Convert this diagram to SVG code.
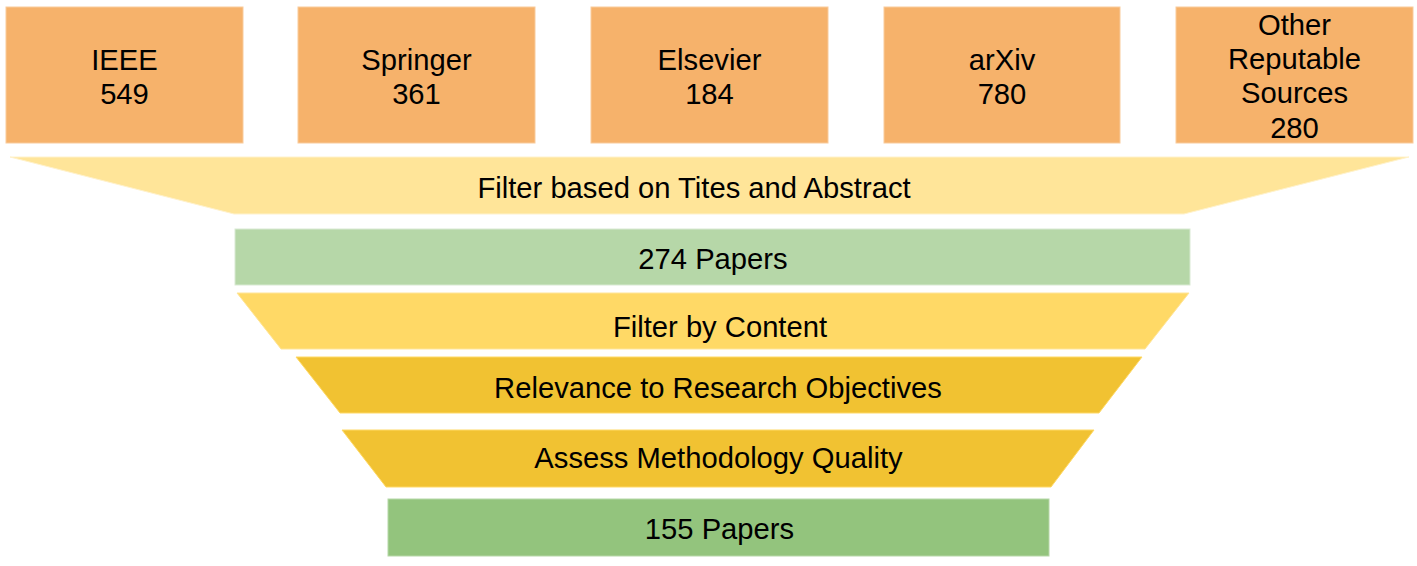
<svg xmlns="http://www.w3.org/2000/svg" width="1417" height="566" viewBox="0 0 1417 566">
<style>
text{font-family:"Liberation Sans",Arial,sans-serif;font-size:29.2px;fill:#000;text-anchor:middle}
.src{fill:#F6B26B;stroke:#F9CB9C;stroke-width:1}
.f1{fill:#FFE599;stroke:#FFF2CC;stroke-width:1}
.g1{fill:#B6D7A8;stroke:#D9EAD3;stroke-width:1}
.f2{fill:#FFD966;stroke:#FFE599;stroke-width:1}
.f3{fill:#F1C232;stroke:#FFD966;stroke-width:1}
.g2{fill:#93C47D;stroke:#B6D7A8;stroke-width:1}
</style>
<rect width="1417" height="566" fill="#fff"/>
<g id="ieee"><rect class="src" x="6" y="7" width="237" height="136"/><text x="124.5" y="69.5">IEEE</text><text x="124.5" y="103.5">549</text></g>
<g id="springer"><rect class="src" x="298" y="7" width="237" height="136"/><text x="416.5" y="69.5">Springer</text><text x="416.5" y="103.5">361</text></g>
<g id="elsevier"><rect class="src" x="591" y="7" width="237" height="136"/><text x="709.5" y="69.5">Elsevier</text><text x="709.5" y="103.5">184</text></g>
<g id="arxiv"><rect class="src" x="884" y="7" width="236" height="136"/><text x="1002" y="69.5">arXiv</text><text x="1002" y="103.5">780</text></g>
<g id="other"><rect class="src" x="1176" y="7" width="237" height="136"/><text x="1294.5" y="34.5">Other</text><text x="1294.5" y="69">Reputable</text><text x="1294.5" y="103">Sources</text><text x="1294.5" y="137.5">280</text></g>
<g id="filter-title"><polygon class="f1" points="10,157 1409,157 1184,214 234,214"/><text x="694" y="198">Filter based on Tites and Abstract</text></g>
<g id="papers274"><rect class="g1" x="235" y="229" width="955" height="56"/><text x="713" y="268.5">274 Papers</text></g>
<g id="filter-content"><polygon class="f2" points="237,293 1189,293 1145,349 281,349"/><text x="720" y="336.5">Filter by Content</text></g>
<g id="relevance"><polygon class="f3" points="296,357 1142,357 1099,413 340,413"/><text x="718" y="397.5">Relevance to Research Objectives</text></g>
<g id="methodology"><polygon class="f3" points="342,430 1094,430 1051,487 386,487"/><text x="718.5" y="467.5">Assess Methodology Quality</text></g>
<g id="papers155"><rect class="g2" x="388" y="499" width="661" height="57"/><text x="719.5" y="538.5">155 Papers</text></g>
<g id="connectors"></g>
</svg>
